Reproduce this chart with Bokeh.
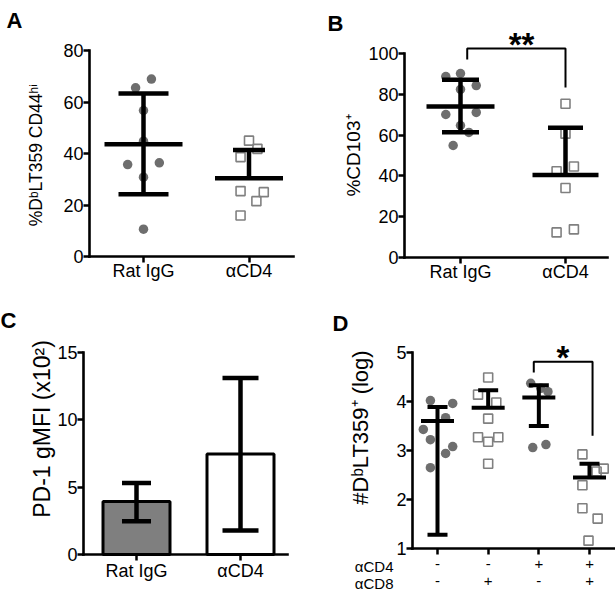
import math
from bokeh.plotting import figure
from bokeh.models import Range1d, FixedTicker, LinearAxis
from bokeh.layouts import row, column
from bokeh.embed import file_html
from bokeh.resources import INLINE
from bokeh.core.properties import value

FONT = "Liberation Sans"
CIRCLE_GRAY = "#6e6e6e"
SQUARE_GRAY = "#808080"

# ---------------- Panel A data ----------------
a_labels = ["Rat IgG", "αCD4"]
a_ylabel = "%DᵇLT359 CD44ʰⁱ"
a_rat = [65.5, 68.9, 56.7, 44.8, 35.7, 36.4, 30.8, 10.6]
a_rat_jitter = [-0.075, 0.075, 0.0, 0.0, -0.15, 0.15, 0.0, 0.0]
a_cd4 = [45.0, 41.8, 38.6, 25.4, 25.0, 21.5, 15.9]
a_cd4_jitter = [0.0, 0.08, -0.08, -0.08, 0.14, 0.07, -0.08]
a_mean = [43.6, 30.4]
a_high = [63.3, 41.4]
a_low = [24.2, None]
a_yticks = [0, 20, 40, 60, 80]

# ---------------- Panel B data ----------------
b_labels = ["Rat IgG", "αCD4"]
b_ylabel = "%CD103⁺"
b_rat = [88.7, 90.2, 84.3, 82.4, 70.1, 71.1, 64.7, 61.3, 54.9]
b_rat_jitter = [-0.14, 0.0, 0.15, 0.0, -0.14, 0.15, 0.0, 0.08, -0.07]
b_cd4 = [75.4, 60.7, 42.3, 44.6, 34.1, 12.3, 13.8]
b_cd4_jitter = [0.0, 0.0, -0.085, 0.08, 0.0, -0.085, 0.08]
b_mean = [74.0, 40.5]
b_high = [87.1, 63.6]
b_low = [61.4, None]
b_yticks = [0, 20, 40, 60, 80, 100]
b_bracket_x = [1.064, 1.064, 2.0, 2.0]
b_bracket_y = [97.0, 102.5, 102.5, 83.3]
b_sig = "**"

# ---------------- Panel C data ----------------
c_labels = ["Rat IgG", "αCD4"]
c_ylabel = "PD-1 gMFI (x10²)"
c_mean = [3.93, 7.46]
c_high = [5.31, 13.1]
c_low = [2.47, 1.78]
c_colors = ["#7f7f7f", "#ffffff"]
c_yticks = [0, 5, 10, 15]

# ---------------- Panel D data ----------------
d_ylabel = "#DᵇLT359⁺ (log)"
d_rows = ["αCD4", "αCD8"]
d_cd4_signs = ["-", "-", "+", "+"]
d_cd8_signs = ["-", "+", "-", "+"]
d_g1 = [4.02, 3.96, 3.67, 3.43, 3.22, 3.08, 2.94, 2.65]
d_g1_jitter = [-0.14, 0.30, 0.16, -0.28, -0.14, 0.30, 0.16, -0.14]
d_g2 = [4.49, 4.14, 3.98, 3.65, 3.27, 3.27, 3.18, 2.73]
d_g2_jitter = [0.0, -0.2, 0.16, 0.0, -0.2, 0.2, 0.0, 0.0]
d_g3 = [4.37, 4.27, 4.20, 3.06, 3.12]
d_g3_jitter = [-0.16, 0.04, 0.18, -0.12, 0.14]
d_g4 = [2.92, 2.63, 2.57, 2.29, 1.82, 1.61, 1.16]
d_g4_jitter = [-0.14, 0.28, 0.14, -0.14, -0.14, 0.16, -0.02]
d_mean = [3.60, 3.87, 4.08, 2.45]
d_high = [3.89, 4.23, 4.33, 2.73]
d_low = [1.28, None, 3.50, None]
d_yticks = [1, 2, 3, 4, 5]
d_bracket_x = [2.9, 2.9, 4.06, 4.06]
d_bracket_y = [4.59, 4.81, 4.81, 3.30]
d_sig = "*"


class Panel:
    """Figure whose frame is the whole canvas; axes sit at fixed data locations."""

    def __init__(self, W, H, cx1, xs, yv, ypx, ys):
        self.cx1, self.xs, self.yv, self.ypx, self.ys = cx1, xs, yv, ypx, ys
        xr = (self.X(0), self.X(W))
        yr = (self.Y(H), self.Y(0))
        p = figure(width=W, height=H, x_range=Range1d(*xr), y_range=Range1d(*yr),
                   output_backend="svg", toolbar_location=None,
                   min_border_left=0, min_border_right=0,
                   min_border_top=0, min_border_bottom=0)
        p.outline_line_color = None
        p.grid.visible = False
        p.background_fill_color = "white"
        p.border_fill_color = "white"
        self.p = p

    def X(self, lx):
        return 1 + (lx - self.cx1) / self.xs

    def Y(self, ly):
        return self.yv + (self.ypx - ly) / self.ys

    def w(self, px):
        return px / self.xs


def style_axis(ax, size="18px"):
    ax.axis_line_width = 2.6
    ax.axis_line_color = "black"
    ax.axis_line_cap = "square"
    ax.major_tick_line_width = 2.5
    ax.major_tick_line_color = "black"
    ax.major_tick_out = 6
    ax.major_tick_in = 0
    ax.minor_tick_line_color = None
    ax.major_label_text_font = FONT
    ax.major_label_text_font_size = size
    ax.major_label_text_color = "black"
    ax.major_label_standoff = 0
    ax.axis_label_text_font = FONT
    ax.axis_label_text_font_style = "normal"
    ax.axis_label_text_color = "black"


def setup_axes(P, yaxis_px, xend_px, yticks, labels, xsize="18px", xstand=-2):
    p = P.p
    for ax in p.axis:
        style_axis(ax)
    x0 = P.X(yaxis_px)
    p.yaxis.fixed_location = x0
    p.yaxis.ticker = FixedTicker(ticks=yticks)
    p.yaxis.bounds = (yticks[0], yticks[-1])
    pos = list(range(1, len(labels) + 1))
    p.xaxis.fixed_location = yticks[0]
    p.xaxis.bounds = (x0, P.X(xend_px))
    p.xaxis.ticker = FixedTicker(ticks=pos)
    p.xaxis.major_label_overrides = {i: t for i, t in zip(pos, labels)}
    p.xaxis.major_label_text_font_size = xsize
    p.xaxis.major_label_standoff = xstand


def axis_title(P, label, size, standoff):
    P.p.yaxis.axis_label = label
    P.p.yaxis.axis_label_text_font_size = size
    P.p.yaxis.axis_label_standoff = standoff


def scatter_group(p, pos, vals, jit, kind):
    xs = [pos + j for j in jit]
    if kind == "circle":
        p.scatter(xs, vals, marker="circle", size=9.5, fill_color=CIRCLE_GRAY,
                  line_color=None)
    else:
        p.scatter(xs, vals, marker="square", size=9, fill_color=None,
                  line_color=SQUARE_GRAY, line_width=1.6)


def errbars(P, means, highs, lows, mean_px, cap_px, lw=4.5, draw_mean=True):
    x0, x1, y0, y1 = [], [], [], []
    for i, (m, hi, lo) in enumerate(zip(means, highs, lows)):
        pos = i + 1
        mw, cw = P.w(mean_px[i]), P.w(cap_px[i])
        bottom = m if lo is None else lo
        x0.append(pos); x1.append(pos); y0.append(bottom); y1.append(hi)
        if draw_mean:
            x0.append(pos - mw); x1.append(pos + mw); y0.append(m); y1.append(m)
        x0.append(pos - cw); x1.append(pos + cw); y0.append(hi); y1.append(hi)
        if lo is not None:
            x0.append(pos - cw); x1.append(pos + cw); y0.append(lo); y1.append(lo)
    P.p.segment(x0=x0, y0=y0, x1=x1, y1=y1, line_color="black", line_width=lw,
                line_cap="butt")


def text(P, lx, ly, s, size, bold=False, align="left", baseline="alphabetic", angle=0.0):
    P.p.text(x=[P.X(lx)], y=[P.Y(ly)], text=[s], text_font=value(FONT),
             text_font_size=size, text_font_style="bold" if bold else "normal",
             text_align=align, text_baseline=baseline, text_color="black",
             angle=angle)


# ---------------- Panel A ----------------
A = Panel(308, 300, 143, 105.5, 0, 256, 2.575)
setup_axes(A, 89, 293, a_yticks, a_labels)
scatter_group(A.p, 1, a_rat, a_rat_jitter, "circle")
scatter_group(A.p, 2, a_cd4, a_cd4_jitter, "square")
errbars(A, a_mean, a_high, a_low, [39, 34], [25, 16])
text(A, 35, 154.5, a_ylabel, "17.5px", align="center", baseline="middle",
     angle=math.pi / 2)
text(A, 6, 20, "A", "22px", bold=True)

# ---------------- Panel B ----------------
B = Panel(307, 300, 152, 105, 0, 257, 2.04)
setup_axes(B, 96, 299, b_yticks, b_labels)
axis_title(B, b_ylabel, "19px", 1)
scatter_group(B.p, 1, b_rat, b_rat_jitter, "circle")
scatter_group(B.p, 2, b_cd4, b_cd4_jitter, "square")
errbars(B, b_mean, b_high, b_low, [34, 33], [18.5, 17.5])
B.p.line(b_bracket_x, b_bracket_y, line_color="black", line_width=2)
text(B, 213, 43.5, b_sig, "33px", bold=True, align="center")
text(B, 19, 23, "B", "22px", bold=True)

# ---------------- Panel C ----------------
C = Panel(308, 291, 136, 104, 0, 254, 13.47)
setup_axes(C, 83, 287, c_yticks, c_labels, xstand=0)
C.p.vbar(x=[1, 2], top=c_mean, width=C.w(67), fill_color=c_colors,
         line_color="black", line_width=3)
errbars(C, c_mean, c_high, c_low, [0, 0], [14.5, 18], draw_mean=False)
text(C, 41.5, 128.5, c_ylabel, "23px", align="center", baseline="middle",
     angle=math.pi / 2)
text(C, 0, 20, "C", "22px", bold=True)

# ---------------- Panel D ----------------
D = Panel(307, 291, 129, 50.67, 1, 248, 49)
setup_axes(D, 104, 307, d_yticks, d_cd4_signs, xsize="15px", xstand=4)
ax2 = LinearAxis(ticker=FixedTicker(ticks=[1, 2, 3, 4]),
                 major_label_overrides={i + 1: s for i, s in enumerate(d_cd8_signs)})
style_axis(ax2, "15px")
ax2.axis_line_color = None
ax2.major_tick_line_color = None
ax2.major_tick_out = 0
ax2.major_label_standoff = 0
ax2.fixed_location = D.Y(275.5)
D.p.add_layout(ax2, "below")
scatter_group(D.p, 1, d_g1, d_g1_jitter, "circle")
scatter_group(D.p, 2, d_g2, d_g2_jitter, "square")
scatter_group(D.p, 3, d_g3, d_g3_jitter, "circle")
scatter_group(D.p, 4, d_g4, d_g4_jitter, "square")
errbars(D, d_mean, d_high, d_low, [16.5] * 4, [10] * 4, lw=4)
D.p.line(d_bracket_x, d_bracket_y, line_color="black", line_width=2)
text(D, 254.5, 57, d_sig, "33px", bold=True, align="center")
for name, ly in zip(d_rows, (266, 283)):
    text(D, 85, ly, name, "15px", align="right", baseline="middle")
text(D, 51.5, 127, d_ylabel, "22px", align="center", baseline="middle",
     angle=math.pi / 2)
text(D, 24, 23, "D", "22px", bold=True)

layout = column(row(A.p, B.p), row(C.p, D.p))
open("out.html", "w").write(file_html(layout, INLINE))
